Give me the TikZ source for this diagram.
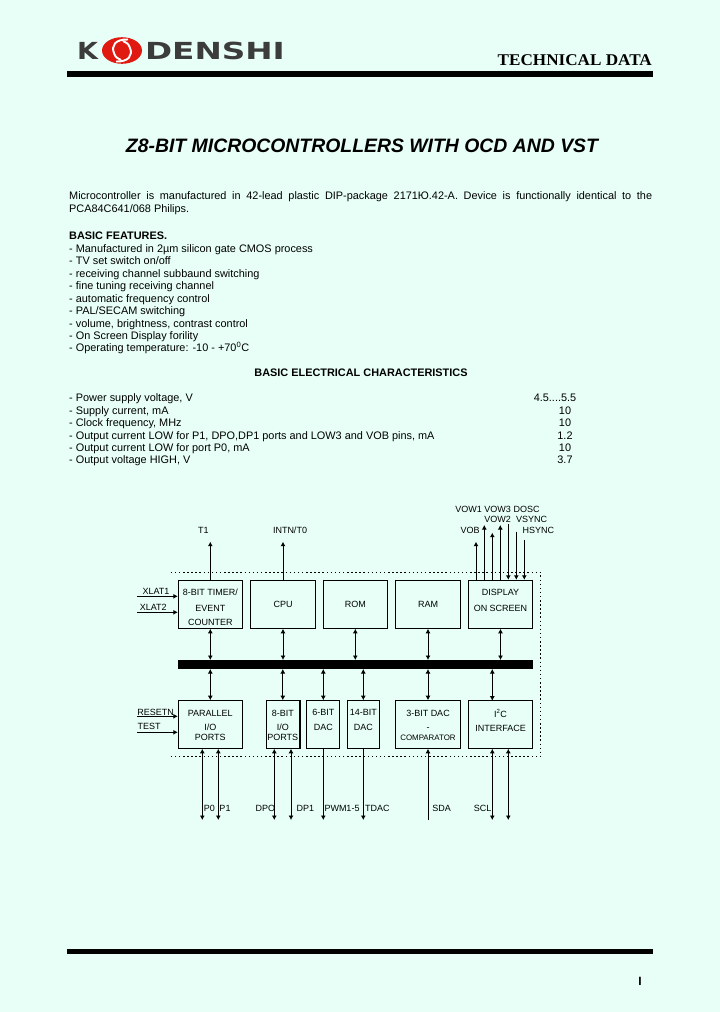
\documentclass[tikz,border=0pt]{standalone}
\usepackage{fontspec}
\usepackage{tikz}
\usepackage{xcolor}
\setmainfont{Liberation Sans}
\newfontfamily\serifdata{Liberation Serif}
\newfontfamily\logofont{DejaVu Sans}
\usetikzlibrary{calc}
\usetikzlibrary{arrows.meta}
\definecolor{paper}{HTML}{E8FFF8}
\definecolor{logored}{HTML}{E01A10}
\definecolor{logogray}{HTML}{3C3C3C}
\tikzset{
  bodytext/.style={anchor=base west,inner sep=0pt,font=\fontsize{10.9}{12.5}\selectfont},
  boldtext/.style={bodytext,font=\fontsize{10.9}{12.5}\selectfont\bfseries},
  valuetext/.style={bodytext,anchor=base},
  block/.style={draw,line width=1pt,inner sep=0pt,align=center,font=\fontsize{9}{10}\selectfont},
  pinlabel/.style={inner sep=0pt,font=\fontsize{9}{10}\selectfont},
  pin/.style={line width=1pt,-{Latex[length=4.5pt,width=5pt]}},
  bipin/.style={line width=1pt,{Latex[length=4.5pt,width=5pt]}-{Latex[length=4.5pt,width=5pt]}},
  chipedge/.style={line width=0.9pt,dash pattern=on 1.5pt off 2.6pt},
  logotext/.style={inner sep=0pt,text=logogray,font=\fontsize{23.5}{24}\selectfont\logofont\bfseries}
}
\begin{document}
\begin{tikzpicture}[x=1pt,y=-1pt]
\fill[paper] (0,0) rectangle (720,1012);
\useasboundingbox (0,0) rectangle (720,1012);

% header
\node[logotext] (logok) at (87.5,51) {\scalebox{1.15}[1]{K}};
\fill[logored] (122,50.5) ellipse (20 and 13.3);
\draw[white,line width=1.9pt] (128,39.5) .. controls (115,39) and (111,46) .. (114,53) .. controls (115,57) and (118,59) .. (121,60);
\draw[white,line width=1.9pt] (116,61.5) .. controls (129,62) and (133,55) .. (130,48) .. controls (129,44) and (126,42) .. (123,41);
\node[logotext] (logoname) at (215,51) {\scalebox{1.39}[1]{DENSHI}};
\node[anchor=base east,inner sep=0pt,font=\fontsize{16.4}{17}\selectfont\serifdata\bfseries] (techdata) at (652,65.7) {\scalebox{1.045}[1]{TECHNICAL DATA}};
\fill (67,71.3) rectangle (653,76.8);

\node[inner sep=0pt,font=\fontsize{19.4}{20}\selectfont\bfseries\itshape] (title) at (362,145.5) {Z8-BIT MICROCONTROLLERS WITH OCD AND VST};

\node[anchor=north west,inner sep=0pt,text width=583pt,align=justify,font=\fontsize{10.9}{12.9}\selectfont] (intro) at (69,191.5) {Microcontroller is manufactured in 42-lead plastic DIP-package 2171Ю.42-A. Device is functionally identical to the PCA84C641/068 Philips.};

% features
\node[boldtext] (features) at (69,239) {BASIC FEATURES.};
\node[bodytext] (feat1) at (69,252) {- Manufactured in 2µm silicon gate CMOS process};
\node[bodytext] (feat2) at (69,264.5) {- TV set switch on/off};
\node[bodytext] (feat3) at (69,277) {- receiving channel subbaund switching};
\node[bodytext] (feat4) at (69,289) {- fine tuning receiving channel};
\node[bodytext] (feat5) at (69,302) {- automatic frequency control};
\node[bodytext] (feat6) at (69,314) {- PAL/SECAM switching};
\node[bodytext] (feat7) at (69,327) {- volume, brightness, contrast control};
\node[bodytext] (feat8) at (69,339) {- On Screen Display forility};
\node[bodytext] (feat9) at (69,351.5) {- Operating temperature: -10 - +70\textsuperscript{0}C};

% characteristics
\node[boldtext,anchor=base] (charhead) at (361,376) {BASIC ELECTRICAL CHARACTERISTICS};
\node[bodytext] (char1) at (69,401) {- Power supply voltage, V};
\node[bodytext] (char2) at (69,414) {- Supply current, mA};
\node[bodytext] (char3) at (69,426) {- Clock frequency, MHz};
\node[bodytext] (char4) at (69,439) {- Output current LOW for P1, DPO,DP1 ports and LOW3 and VOB pins, mA};
\node[bodytext] (char5) at (69,451) {- Output current LOW for port P0, mA};
\node[bodytext] (char6) at (69,463) {- Output voltage HIGH, V};
\node[valuetext] (val1) at (555,401) {4.5....5.5};
\node[valuetext] (val2) at (565,414) {10};
\node[valuetext] (val3) at (565,426) {10};
\node[valuetext] (val4) at (565,439) {1.2};
\node[valuetext] (val5) at (565,451) {10};
\node[valuetext] (val6) at (565,463) {3.7};

% blocks
\node[block,minimum width=64,minimum height=48] (timer) at (210.3,604.3) {\rule{0pt}{11.5pt}8-BIT TIMER/\\[6pt]EVENT\\[4pt]COUNTER};
\node[block,minimum width=65.4,minimum height=48] (cpu) at (283,604.3) {CPU};
\node[block,minimum width=64,minimum height=48] (rom) at (355.3,604.3) {ROM};
\node[block,minimum width=65.4,minimum height=48] (ram) at (428,604.3) {RAM};
\node[block,minimum width=64.4,minimum height=48] (display) at (500.5,604.3) {DISPLAY\\[6pt]ON SCREEN\rule[-8pt]{0pt}{8pt}};
\fill (178,660) rectangle (533,669);
\coordinate (bus north) at (355,660);
\coordinate (bus south) at (355,669);
\node[block,minimum width=64,minimum height=47.6] (parallel) at (210.3,724.5) {\rule{0pt}{8pt}PARALLEL\\[4.5pt]I/O\\[0pt]PORTS};
\node[block,minimum width=33,minimum height=47.6] (port8) at (282.8,724.5) {\rule{0pt}{8pt}8-BIT\\[4.5pt]I/O\\[0pt]PORTS};
\node[block,minimum width=33,minimum height=47.6] (dac6) at (323.3,724.5) {6-BIT\\[4.5pt]DAC\rule[-9pt]{0pt}{9pt}};
\node[block,minimum width=32,minimum height=47.6] (dac14) at (363.3,724.5) {14-BIT\\[4.5pt]DAC\rule[-9pt]{0pt}{9pt}};
\node[block,minimum width=65.4,minimum height=47.6] (comp) at (428,724.5) {\rule{0pt}{8pt}3-BIT DAC\\[4.5pt]-\\[0pt]{\fontsize{7.9}{9}\selectfont COMPARATOR}};
\node[block,minimum width=64.4,minimum height=47.6] (iface) at (500.5,724.5) {I\textsuperscript{2}C\\[4pt]INTERFACE\rule[-9pt]{0pt}{9pt}};
\draw[line width=1.6pt] (port8.north east) -- (port8.south east);
\draw[line width=1.6pt] (dac6.north west) -- (dac6.south west);

% chip outline
\draw[chipedge] (170.7,572.3) -- (540.7,572.3) -- (540.7,756.3) -- (170.7,756.3);

% bus links
\foreach \blockname in {timer,cpu,rom,ram,display}
  \draw[bipin] (\blockname.south) -- (\blockname.south |- bus north);
\foreach \blockname in {parallel,port8,dac6,dac14,comp}
  \draw[bipin] (bus south -| \blockname.north) -- (\blockname.north);
\coordinate (ifacebus) at (492.3,700.7);
\draw[bipin] (bus south -| ifacebus) -- (ifacebus);

% upper pins
\coordinate (t1) at (210.3,541.7);
\coordinate (intn) at (283,541.7);
\draw[pin] (timer.north) -- (t1);
\draw[pin] (cpu.north) -- (intn);
\coordinate (vob) at (476,541.7);
\coordinate (vow1) at (484.3,525);
\coordinate (vow2) at (492.3,532.7);
\coordinate (vow3) at (500.3,525);
\coordinate (dosc) at (508.3,524);
\coordinate (vsync) at (516.3,531.7);
\coordinate (hsync) at (524.3,540);
\foreach \pinname in {vob,vow1,vow2,vow3}
  \draw[pin] (display.north -| \pinname) -- (\pinname);
\foreach \pinname in {dosc,vsync,hsync}
  \draw[pin] (\pinname) -- (display.north -| \pinname);
\node[pinlabel] (t1lab) at (203.3,530) {T1};
\node[pinlabel] (intnlab) at (290,530) {INTN/T0};
\node[pinlabel] (vow1lab) at (468.7,509.7) {VOW1};
\node[pinlabel] (vow3lab) at (497.7,509.7) {VOW3};
\node[pinlabel] (dosclab) at (526.7,509.7) {DOSC};
\node[pinlabel] (vow2lab) at (497.7,519.3) {VOW2};
\node[pinlabel] (vsynclab) at (531.7,519.3) {VSYNC};
\node[pinlabel] (voblab) at (470,530) {VOB};
\node[pinlabel] (hsynclab) at (538.3,530) {HSYNC};

% side pins
\coordinate (xlat1) at (137,596.3);
\coordinate (xlat2) at (137,612.3);
\coordinate (resetn) at (137,716.3);
\coordinate (test) at (137,732.3);
\draw[pin] (xlat1) -- (xlat1 -| timer.west);
\draw[pin] (xlat2) -- (xlat2 -| timer.west);
\draw[pin] (resetn) -- (resetn -| parallel.west);
\draw[pin] (test) -- (test -| parallel.west);
\node[pinlabel] (xlat1lab) at (156,591.7) {XLAT1};
\node[pinlabel] (xlat2lab) at (153.3,607.7) {XLAT2};
\node[pinlabel] (resetnlab) at (155.7,712) {RESETN};
\node[pinlabel] (testlab) at (149,726.7) {TEST};

% lower pins
\coordinate (p0) at (202.3,820);
\coordinate (p1) at (218.3,820);
\coordinate (dp0) at (274.3,820);
\coordinate (dp1) at (291,820);
\coordinate (pwm) at (323.3,820);
\coordinate (tdac) at (363.3,820);
\coordinate (sda) at (428,820);
\coordinate (scl) at (492.3,820);
\coordinate (sclb) at (508.3,820);
\foreach \pinname in {p0,p1}
  \draw[bipin] (\pinname) -- (parallel.south -| \pinname);
\foreach \pinname in {dp0,dp1}
  \draw[bipin] (\pinname) -- (port8.south -| \pinname);
\foreach \pinname in {scl,sclb}
  \draw[bipin] (\pinname) -- (iface.south -| \pinname);
\draw[pin] (dac6.south) -- (pwm);
\draw[pin] (dac14.south) -- (tdac);
\draw[pin] (sda) -- (comp.south);
\node[pinlabel] (p0lab) at (209.3,808.3) {P0};
\node[pinlabel] (p1lab) at (225,808.3) {P1};
\node[pinlabel] (dp0lab) at (265.3,808.3) {DPO};
\node[pinlabel] (dp1lab) at (305.3,808.3) {DP1};
\node[pinlabel] (pwmlab) at (342,808.3) {PWM1-5};
\node[pinlabel] (tdaclab) at (377.3,808.3) {TDAC};
\node[pinlabel] (sdalab) at (441.7,808.3) {SDA};
\node[pinlabel] (scllab) at (482.7,808.3) {SCL};

% footer
\fill (67,949) rectangle (653,954);
\node[inner sep=0pt,font=\fontsize{12}{12}\selectfont\bfseries] (pagemark) at (640,981) {I};
\end{tikzpicture}
\end{document}
